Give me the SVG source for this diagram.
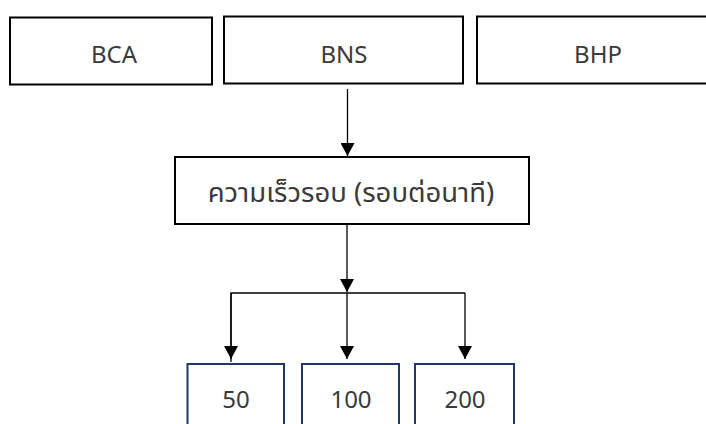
<svg xmlns="http://www.w3.org/2000/svg" width="706" height="424" viewBox="0 0 706 424">
<style>
.box{fill:#fff;stroke:#000;stroke-width:2}
.nbox{fill:#fff;stroke:#1f3864;stroke-width:2}
.t{font-family:"Noto Sans","Noto Sans Thai","Tahoma","DejaVu Sans",sans-serif;font-size:24px;fill:#3a3a3a;text-anchor:middle}
.th{font-size:27.5px}
.c{stroke:#000;stroke-width:1.3;fill:none}
</style>
<defs>
<marker id="ah" markerWidth="14" markerHeight="14" refX="13" refY="7" orient="auto" markerUnits="userSpaceOnUse">
<path d="M0,0 L13,7 L0,14 Z" fill="#000"/>
</marker>
</defs>
<rect width="706" height="424" fill="#fff"/>
<g id="bca"><rect class="box" x="10" y="17.5" width="202" height="67"/><text class="t" x="114" y="63">BCA</text></g>
<g id="bns"><rect class="box" x="224" y="16.5" width="239" height="67"/><text class="t" x="344" y="63">BNS</text></g>
<g id="bhp"><rect class="box" x="477" y="16.5" width="243" height="67"/><text class="t" x="598" y="63">BHP</text></g>
<g id="speed"><rect class="box" x="175" y="157" width="354" height="67"/><text class="t th" x="351" y="202">ความเร็วรอบ (รอบต่อนาที)</text></g>
<g id="n50"><rect class="nbox" x="187.5" y="364" width="96.5" height="80"/><text class="t" x="236" y="408">50</text></g>
<g id="n100"><rect class="nbox" x="302" y="364" width="97" height="80"/><text class="t" x="351" y="408">100</text></g>
<g id="n200"><rect class="nbox" x="415" y="364" width="99" height="80"/><text class="t" x="465" y="408">200</text></g>
<g id="connectors">
<line class="c" x1="347.5" y1="89" x2="347.5" y2="156" marker-end="url(#ah)"/>
<line class="c" x1="347" y1="225" x2="347" y2="292" marker-end="url(#ah)"/>
<polyline class="c" points="231,362 231,293 465,293"/>
<line class="c" x1="231" y1="293" x2="231" y2="359" marker-end="url(#ah)"/>
<line class="c" x1="347" y1="293" x2="347" y2="359" marker-end="url(#ah)"/>
<line class="c" x1="465" y1="293" x2="465" y2="359" marker-end="url(#ah)"/>
</g>
</svg>
